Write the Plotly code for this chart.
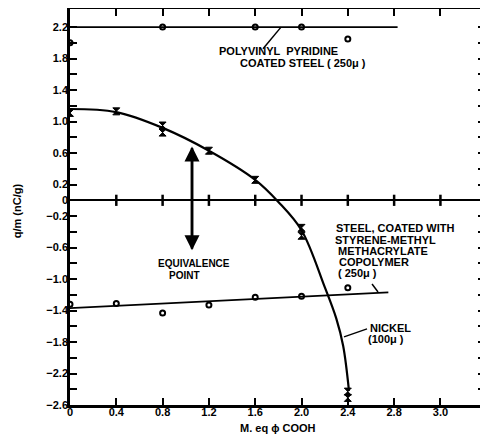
import plotly.graph_objects as go

# ---- data ----
x_tick_vals = [0, 0.4, 0.8, 1.2, 1.6, 2.0, 2.4, 2.8, 3.2]
x_tick_text = ["0", "0.4", "0.8", "1.2", "1.6", "2.0", "2.4", "2.8", "3.0"]
y_tick_vals = [-2.6, -2.4, -2.2, -2.0, -1.8, -1.6, -1.4, -1.2, -1.0, -0.8, -0.6, -0.4, -0.2,
               0, 0.2, 0.4, 0.6, 0.8, 1.0, 1.2, 1.4, 1.6, 1.8, 2.0, 2.2]
y_tick_text = ["−2.6", "", "−2.2", "", "−1.8", "", "−1.4", "", "−1.0", "", "−0.6", "", "−0.2",
               "0", "0.2", "", "0.6", "", "1.0", "", "1.4", "", "1.8", "", "2.2"]

# Polyvinyl pyridine coated steel
pvp_x = [0, 0.8, 1.6, 2.0, 2.4]
pvp_y = [2.0, 2.2, 2.2, 2.2, 2.05]
pvp_fit_x = [0, 2.83]
pvp_fit_y = [2.2, 2.2]

# Nickel (measured points and smooth curve)
ni_x = [0, 0.4, 0.8, 0.8, 1.2, 1.6, 2.0, 2.0, 2.4, 2.4]
ni_y = [1.11, 1.13, 0.95, 0.86, 0.63, 0.26, -0.35, -0.45, -2.43, -2.51]
ni_curve_x = [0, 0.4, 0.8, 1.2, 1.6, 1.8, 2.0, 2.2, 2.3, 2.36, 2.41]
ni_curve_y = [1.16, 1.12, 0.92, 0.63, 0.26, -0.02, -0.38, -1.1, -1.5, -1.85, -2.42]

# Steel coated with styrene-methyl methacrylate copolymer
cop_x = [0, 0.4, 0.8, 1.2, 1.6, 2.0, 2.4]
cop_y = [-1.32, -1.31, -1.43, -1.33, -1.23, -1.22, -1.11]
cop_fit_x = [0, 2.75]
cop_fit_y = [-1.37, -1.17]

FONT = "Liberation Sans"

fig = go.Figure()

# zero-line crosses
fig.add_trace(go.Scatter(x=x_tick_vals[1:], y=[0] * (len(x_tick_vals) - 1), mode="markers",
                         marker=dict(symbol="line-ns", size=8, line=dict(width=2.5, color="black")),
                         showlegend=False, hoverinfo="skip"))

fig.add_trace(go.Scatter(x=pvp_fit_x, y=pvp_fit_y, mode="lines",
                         line=dict(color="black", width=1.8), showlegend=False))
fig.add_trace(go.Scatter(x=pvp_x, y=pvp_y, mode="markers",
                         marker=dict(symbol="circle-open", size=5, color="black", line=dict(width=2)),
                         showlegend=False))

fig.add_trace(go.Scatter(x=ni_curve_x, y=ni_curve_y, mode="lines", line_shape="spline",
                         line=dict(color="black", width=2.2), showlegend=False))
fig.add_trace(go.Scatter(x=ni_x, y=ni_y, mode="markers",
                         marker=dict(symbol="hourglass", size=7, color="black",
                                     line=dict(width=1, color="black")),
                         showlegend=False))

fig.add_trace(go.Scatter(x=cop_fit_x, y=cop_fit_y, mode="lines",
                         line=dict(color="black", width=1.8), showlegend=False))
fig.add_trace(go.Scatter(x=cop_x, y=cop_y, mode="markers",
                         marker=dict(symbol="circle-open", size=5, color="black", line=dict(width=2)),
                         showlegend=False))

# helper: reference pixel -> data
def DX(px):
    return (px - 70) / 115.75

def DY(py):
    return (200 - py) / 79.0

def label(text, px, py, size=11):
    fig.add_annotation(x=DX(px), y=DY(py), xref="x", yref="y", text=text, showarrow=False,
                       xanchor="left", yanchor="middle",
                       font=dict(family=FONT, size=size, color="black", weight="bold"))

label("POLYVINYL  PYRIDINE", 217, 50)
label("COATED STEEL ( 250μ )", 238, 62)
label("STEEL, COATED WITH", 334, 228)
label("STYRENE-METHYL", 333, 240)
label("METHACRYLATE", 336, 251)
label("COPOLYMER", 337, 262)
label("( 250μ )", 336, 273)
label("NICKEL", 368, 328)
label("(100μ )", 366, 339)
label("EQUIVALENCE", 156, 263, size=10)
label("POINT", 167, 275, size=10)

# leader lines
fig.add_shape(type="line", x0=DX(263), y0=DY(48), x1=DX(281), y1=2.2,
              line=dict(color="black", width=1.5))
fig.add_shape(type="line", x0=DX(372), y0=DY(284), x1=DX(378), y1=DY(292),
              line=dict(color="black", width=1.5))
fig.add_shape(type="line", x0=DX(367), y0=DY(329), x1=DX(344), y1=DY(337),
              line=dict(color="black", width=1.5))

# double-headed arrow (equivalence point)
for (ya, yb) in [(DY(250), DY(146)), (DY(146), DY(250))]:
    fig.add_annotation(x=DX(192), y=yb, ax=DX(192), ay=ya, xref="x", yref="y",
                       axref="x", ayref="y", text="", showarrow=True,
                       arrowhead=2, arrowsize=1.2, arrowwidth=2.5, arrowcolor="black")

# axis titles as paper annotations
fig.add_annotation(x=0.5, y=-0.058, xref="paper", yref="paper", text="M. eq ϕ COOH",
                   showarrow=False, xanchor="center", yanchor="middle",
                   font=dict(family=FONT, size=11, color="black", weight="bold"))
fig.add_annotation(x=-0.127, y=0.49, xref="paper", yref="paper", text="q/m (nC/g)",
                   showarrow=False, textangle=-90, xanchor="center", yanchor="middle",
                   font=dict(family=FONT, size=11, color="black", weight="bold"))

# the page body adds an 8px offset, so the figure is 8px smaller
fig.update_layout(
    width=480, height=431,
    margin=dict(l=62, r=3, t=1, b=34),
    paper_bgcolor="white", plot_bgcolor="white",
    font=dict(family=FONT, size=11, color="black", weight="bold"),
    xaxis=dict(range=[0, 3.585], tickvals=x_tick_vals, ticktext=x_tick_text,
               ticks="inside", ticklen=7, tickwidth=2, tickcolor="black",
               showline=True, linecolor="black", linewidth=2.5, mirror="ticks",
               showgrid=False, zeroline=False, automargin=False, ticklabelstandoff=-5,
               tickfont=dict(family=FONT, size=11, weight="bold")),
    yaxis=dict(range=[-2.6, 2.43], tickvals=y_tick_vals, ticktext=y_tick_text,
               ticks="inside", ticklen=7, tickwidth=2, tickcolor="black",
               showline=True, linecolor="black", linewidth=2.5, mirror="ticks",
               showgrid=False, zeroline=True, zerolinecolor="black", zerolinewidth=2,
               automargin=False, ticklabelstandoff=-3,
               tickfont=dict(family=FONT, size=11, weight="bold")),
)

fig.write_html("out.html")
